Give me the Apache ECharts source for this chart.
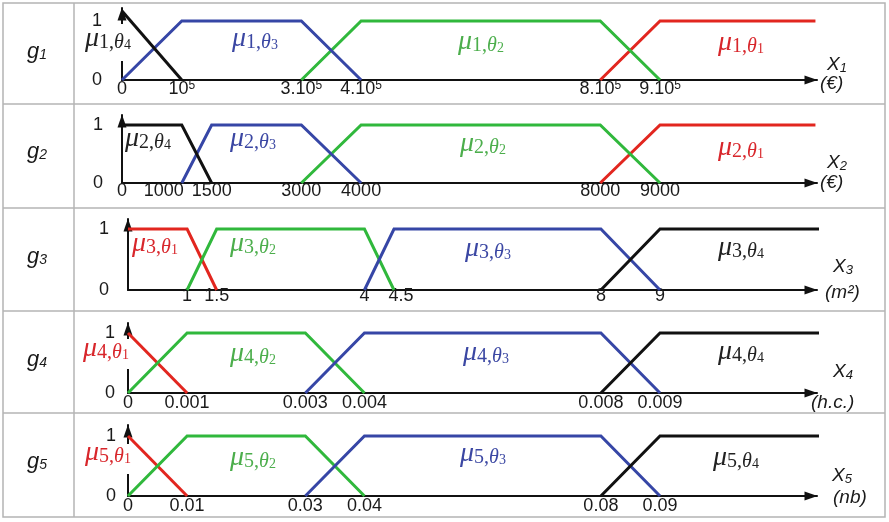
<!DOCTYPE html>
<html><head><meta charset="utf-8">
<script src="https://cdn.jsdelivr.net/npm/echarts@6/dist/echarts.min.js"></script>
<style>html,body{margin:0;padding:0;background:#fff}#c{width:889px;height:522px}</style>
</head><body><div id="c"></div>
<script>
// ---------- data ----------
const rowNames = ['1', '2', '3', '4', '5'];
const axisNames = ['1', '2', '3', '4', '5'];
const axisUnits = ['(€)', '(€)', '(m²)', '(h.c.)', '(nb)'];

const ticks1 = [0, 1e5, 3e5, 4e5, 8e5, 9e5];
const tickLabels1 = ['0', '10^5', '3.10^5', '4.10^5', '8.10^5', '9.10^5'];
const ticks2 = [0, 1000, 1500, 3000, 4000, 8000, 9000];
const tickLabels2 = ['0', '1000', '1500', '3000', '4000', '8000', '9000'];
const ticks3 = [1, 1.5, 4, 4.5, 8, 9];
const tickLabels3 = ['1', '1.5', '4', '4.5', '8', '9'];
const ticks4 = [0, 0.001, 0.003, 0.004, 0.008, 0.009];
const tickLabels4 = ['0', '0.001', '0.003', '0.004', '0.008', '0.009'];
const ticks5 = [0, 0.01, 0.03, 0.04, 0.08, 0.09];
const tickLabels5 = ['0', '0.01', '0.03', '0.04', '0.08', '0.09'];

const g1Theta1 = [[8e5, 0], [9e5, 1], [11.6e5, 1]];
const g1Theta2 = [[3e5, 0], [4e5, 1], [8e5, 1], [9e5, 0]];
const g1Theta3 = [[0, 0], [1e5, 1], [3e5, 1], [4e5, 0]];
const g1Theta4 = [[0, 1.17], [1e5, 0]];

const g2Theta1 = [[8000, 0], [9000, 1], [11600, 1]];
const g2Theta2 = [[3000, 0], [4000, 1], [8000, 1], [9000, 0]];
const g2Theta3 = [[1000, 0], [1500, 1], [3000, 1], [4000, 0]];
const g2Theta4 = [[0, 1], [1000, 1], [1500, 0]];

const g3Theta1 = [[0, 1], [1, 1], [1.5, 0]];
const g3Theta2 = [[1, 0], [1.5, 1], [4, 1], [4.5, 0]];
const g3Theta3 = [[4, 0], [4.5, 1], [8, 1], [9, 0]];
const g3Theta4 = [[8, 0], [9, 1], [11.7, 1]];

const g4Theta1 = [[0, 1], [0.001, 0]];
const g4Theta2 = [[0, 0], [0.001, 1], [0.003, 1], [0.004, 0]];
const g4Theta3 = [[0.003, 0], [0.004, 1], [0.008, 1], [0.009, 0]];
const g4Theta4 = [[0.008, 0], [0.009, 1], [0.0117, 1]];

const g5Theta1 = [[0, 1], [0.01, 0]];
const g5Theta2 = [[0, 0], [0.01, 1], [0.03, 1], [0.04, 0]];
const g5Theta3 = [[0.03, 0], [0.04, 1], [0.08, 1], [0.09, 0]];
const g5Theta4 = [[0.08, 0], [0.09, 1], [0.117, 1]];

// ---------- layout / style ----------
const COL = { t1: '#e2261f', t2: '#30b83c', t3: '#3646a6', t4: '#111111' };
const TXT = { t1: '#d8262b', t2: '#4cae4c', t3: '#3b47a3', t4: '#222222' };

const grids = [
  { left: 122, top: 8,   width: 695, height: 72, xMax: 11.626e5, yMax: 1.22,  tm: 0,  ym: 20 },
  { left: 122, top: 115, width: 695, height: 68, xMax: 11626,    yMax: 1.172, tm: -1, ym: 19 },
  { left: 128, top: 219, width: 689, height: 71, xMax: 11.656,   yMax: 1.164, tm: -3, ym: 19 },
  { left: 128, top: 323, width: 689, height: 70, xMax: 0.011656, yMax: 1.167, tm: 1,  ym: 13 },
  { left: 128, top: 425, width: 689, height: 71, xMax: 0.11656,  yMax: 1.183, tm: 1,  ym: 12 }
];
const allTicks = [ticks1, ticks2, ticks3, ticks4, ticks5];
const allTickLabels = [tickLabels1, tickLabels2, tickLabels3, tickLabels4, tickLabels5];
const tickShift = [{}, { '1000': 'l' }, { '4.5': 'r' }, {}, {}];

const rowData = [
  [g1Theta1, g1Theta2, g1Theta3, g1Theta4],
  [g2Theta1, g2Theta2, g2Theta3, g2Theta4],
  [g3Theta1, g3Theta2, g3Theta3, g3Theta4],
  [g4Theta1, g4Theta2, g4Theta3, g4Theta4],
  [g5Theta1, g5Theta2, g5Theta3, g5Theta4]
];

const tickRich = {
  n: { fontSize: 18, lineHeight: 20, verticalAlign: 'top', fontFamily: 'Liberation Sans', color: '#1a1a1a' },
  l: { fontSize: 18, lineHeight: 20, verticalAlign: 'top', fontFamily: 'Liberation Sans', color: '#1a1a1a', padding: [0, 36, 0, 0] },
  r: { fontSize: 18, lineHeight: 20, verticalAlign: 'top', fontFamily: 'Liberation Sans', color: '#1a1a1a', padding: [0, 0, 0, 14] },
  sup: { fontSize: 12, lineHeight: 8, verticalAlign: 'top', fontFamily: 'Liberation Sans', color: '#1a1a1a' }
};

const xAxes = [], yAxes = [], series = [];
grids.forEach((g, i) => {
  const ticks = allTicks[i], labels = allTickLabels[i];
  xAxes.push({
    gridIndex: i, type: 'value', min: 0, max: g.xMax,
    axisLine: { show: true, onZero: false, lineStyle: { color: '#111', width: 2 },
      symbol: ['none', 'triangle'], symbolSize: [9, 13], symbolOffset: [0, -6] },
    axisTick: { show: false }, splitLine: { show: false },
    axisLabel: {
      customValues: ticks, margin: g.tm, color: '#1a1a1a', fontFamily: 'Liberation Sans', fontSize: 18,
      formatter: function (v) {
        const k = ticks.indexOf(v);
        if (k < 0) return '';
        const s = labels[k];
        const st = tickShift[i][s] || 'n';
        const parts = s.split('^');
        return '{' + st + '|' + parts[0] + '}' + (parts[1] ? '{sup|' + parts[1] + '}' : '');
      },
      rich: tickRich
    }
  });
  yAxes.push({
    gridIndex: i, type: 'value', min: 0, max: g.yMax,
    axisLine: { show: true, onZero: false, lineStyle: { color: '#111', width: 2 },
      symbol: ['none', 'triangle'], symbolSize: [9, 13], symbolOffset: [0, -6] },
    axisTick: { show: false }, splitLine: { show: false },
    axisLabel: { customValues: [0, 1], margin: g.ym, color: '#1a1a1a', fontFamily: 'Liberation Sans', fontSize: 18,
      formatter: v => String(v) }
  });
  const keys = ['t1', 't2', 't3', 't4'];
  rowData[i].forEach((d, j) => {
    series.push({
      type: 'line', xAxisIndex: i, yAxisIndex: i, data: d, symbol: 'none', clip: false, silent: true,
      lineStyle: { color: COL[keys[j]], width: 3, join: 'miter' }, z: 2
    });
  });
});

// ---------- text annotations ----------
const graphic = [];
const FR = '#b4b4b4';
graphic.push({ type: 'rect', shape: { x: 3, y: 3, width: 882, height: 514 }, style: { fill: 'none', stroke: FR, lineWidth: 1.5 }, z: 0 });
graphic.push({ type: 'line', shape: { x1: 74, y1: 3, x2: 74, y2: 517 }, style: { stroke: FR, lineWidth: 1.5 }, z: 0 });
[104, 208, 311, 413].forEach(y => graphic.push({ type: 'line', shape: { x1: 3, y1: y, x2: 885, y2: y }, style: { stroke: FR, lineWidth: 1.5 }, z: 0 }));

// white masks where labels sit over the vertical axis (as in the reference)
[[119, 24, 7, 37], [125, 339, 7, 30], [125, 444, 7, 30]].forEach(r =>
  graphic.push({ type: 'rect', shape: { x: r[0], y: r[1], width: r[2], height: r[3] }, style: { fill: '#fff' }, z: 1 }));

function mu(row, th, key, x, bl) {
  const c = TXT[key];
  graphic.push({
    type: 'text', x: x, y: bl - 24.45, z: 3,
    style: {
      text: '{m|μ}{s|' + row + ',}{t|θ}{d|' + th + '}', align: 'left', verticalAlign: 'top',
      rich: {
        m: { font: 'italic 28px "Liberation Serif"', lineHeight: 30, verticalAlign: 'bottom', fill: c },
        s: { font: '20px "Liberation Serif"', lineHeight: 19.8, verticalAlign: 'bottom', fill: c },
        t: { font: 'italic 20px "Liberation Serif"', lineHeight: 19.8, verticalAlign: 'bottom', fill: c },
        d: { font: '14px "Liberation Serif"', lineHeight: 5.7, verticalAlign: 'bottom', fill: c }
      }
    }
  });
}
mu(1, 4, 't4', 85, 47);   mu(1, 3, 't3', 232, 47);  mu(1, 2, 't2', 458, 50);  mu(1, 1, 't1', 718, 51);
mu(2, 4, 't4', 125, 147); mu(2, 3, 't3', 230, 147); mu(2, 2, 't2', 460, 152); mu(2, 1, 't1', 718, 156);
mu(3, 1, 't1', 132, 252); mu(3, 2, 't2', 230, 252); mu(3, 3, 't3', 465, 257); mu(3, 4, 't4', 718, 256);
mu(4, 1, 't1', 83, 357);  mu(4, 2, 't2', 230, 362); mu(4, 3, 't3', 463, 361); mu(4, 4, 't4', 718, 360);
mu(5, 1, 't1', 85, 461);  mu(5, 2, 't2', 230, 466); mu(5, 3, 't3', 460, 462); mu(5, 4, 't4', 713, 466);

const rowTops = [3, 103, 208, 311, 413];
rowNames.forEach((n, i) => {
  graphic.push({
    type: 'text', x: 27, y: rowTops[i] + 55 - 19.6, z: 3,
    style: { text: '{g|g}{s|' + n + '}', align: 'left', verticalAlign: 'top',
      rich: {
        g: { font: 'italic 22px "Liberation Sans"', lineHeight: 24, verticalAlign: 'bottom', fill: '#1a1a1a' },
        s: { font: 'italic 14px "Liberation Sans"', lineHeight: 11.5, verticalAlign: 'bottom', fill: '#1a1a1a' }
      } }
  });
});

const xLab = [[827, 70, 820, 89], [827, 168, 820, 188], [833, 272, 825, 298], [833, 377, 811, 408], [832, 481, 833, 503]];
axisNames.forEach((n, i) => {
  const p = xLab[i];
  graphic.push({
    type: 'text', x: p[0], y: p[1] - 17.6, z: 3,
    style: { text: '{x|X}{s|' + n + '}', align: 'left', verticalAlign: 'top',
      rich: {
        x: { font: 'italic 19px "Liberation Sans"', lineHeight: 22, verticalAlign: 'bottom', fill: '#1a1a1a' },
        s: { font: 'italic 13px "Liberation Sans"', lineHeight: 9.8, verticalAlign: 'bottom', fill: '#1a1a1a' }
      } }
  });
  graphic.push({
    type: 'text', x: p[2], y: p[3] - 17.6, z: 3,
    style: { text: '{u|' + axisUnits[i] + '}', align: 'left', verticalAlign: 'top',
      rich: { u: { font: 'italic 19px "Liberation Sans"', lineHeight: 22, verticalAlign: 'bottom', fill: '#1a1a1a' } } }
  });
});

const chart = echarts.init(document.getElementById('c'), null, { renderer: 'canvas' });
chart.setOption({
  animation: false,
  backgroundColor: '#fff',
  grid: grids.map(g => ({ left: g.left, top: g.top, width: g.width, height: g.height, containLabel: false })),
  xAxis: xAxes, yAxis: yAxes, series: series, graphic: graphic
});
</script></body></html>
